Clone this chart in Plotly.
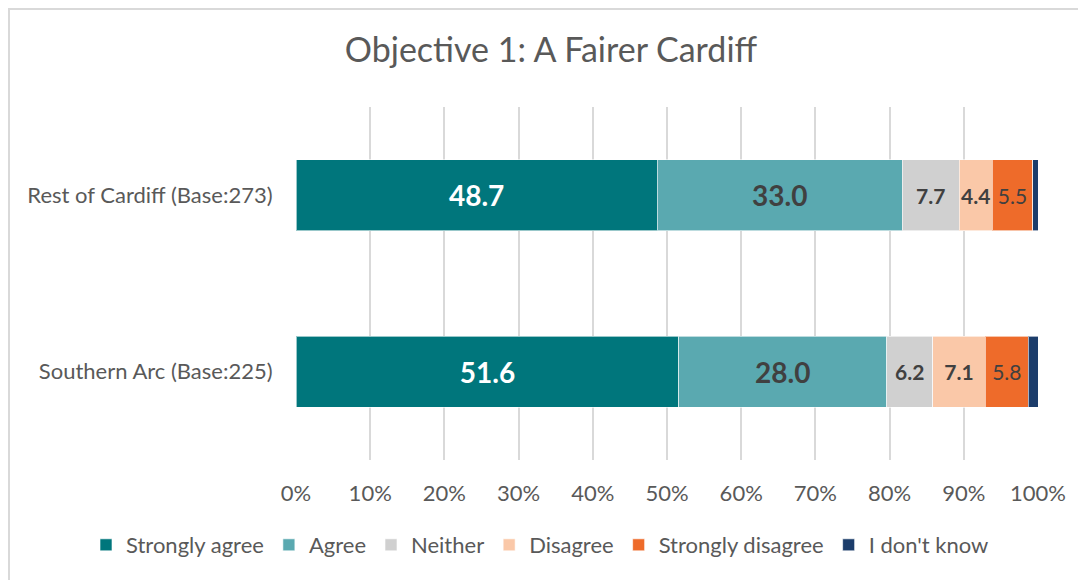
import plotly.graph_objects as go

categories = ["Rest of Cardiff (Base:273)", "Southern Arc (Base:225)"]
series_names = ["Strongly agree", "Agree", "Neither", "Disagree", "Strongly disagree", "I don't know"]
strongly_agree = [48.7, 51.6]
agree = [33.0, 28.0]
neither = [7.7, 6.2]
disagree = [4.4, 7.1]
strongly_disagree = [5.5, 5.8]
dont_know = [0.7, 1.3]
tick_vals = [0, 10, 20, 30, 40, 50, 60, 70, 80, 90, 100]
tick_text = ["0%", "10%", "20%", "30%", "40%", "50%", "60%", "70%", "80%", "90%", "100%"]

values = [strongly_agree, agree, neither, disagree, strongly_disagree, dont_know]
colors = ["#00767C", "#5AA9B0", "#D0D0D0", "#FAC8A8", "#EE6B2A", "#1C3D6B"]
text_colors = ["#FFFFFF", "#404040", "#404040", "#404040", "#404040", "#404040"]
text_sizes = [28, 28, 21, 21, 21, 21]
bold = [True, True, True, True, False, False]
show_text = [True, True, True, True, True, False]

FONT = "Lato"
# figure is placed at page offset (8, 8) by the body margin
FW, FH = 1078, 572
L, R, T, B = 288, 1030, 99, 452
W, H = R - L, B - T

fig = go.Figure()
for name, vals, col, tc, ts, bd, st in zip(series_names, values, colors, text_colors, text_sizes, bold, show_text):
    if st:
        txt = [(f"<b>{v:.1f}</b>" if bd else f"{v:.1f}") for v in vals]
    else:
        txt = ["" for v in vals]
    fig.add_trace(go.Bar(
        name=name, y=categories, x=vals, orientation="h",
        marker=dict(color=col, line=dict(color="rgba(255,255,255,0.6)", width=1)),
        text=txt, textposition="inside", insidetextanchor="middle", textangle=0,
        textfont=dict(color=tc, size=ts, family=FONT),
        constraintext="none", cliponaxis=False,
        hoverinfo="x+name",
    ))

def px_x(x):
    return (x - L) / W

def px_y(y):
    return (B - y) / H

fig.update_layout(
    barmode="stack",
    width=FW, height=FH,
    margin=dict(l=L, r=FW - R, t=T, b=FH - B, autoexpand=False),
    paper_bgcolor="white", plot_bgcolor="white",
    font=dict(family=FONT, color="#595959"),
    title=dict(text="Objective 1: A Fairer Cardiff", x=543 / FW, xanchor="center",
               y=1 - 42 / FH, yanchor="middle", font=dict(size=34, color="#595959", family=FONT)),
    bargap=0.6,
    showlegend=True,
    legend=dict(orientation="h", x=px_x(78), xanchor="left",
                y=(B - 537) / H, yanchor="middle", font=dict(size=22, color="#595959", family=FONT),
                itemwidth=30, traceorder="normal", tracegroupgap=0),
    xaxis=dict(range=[0, 100], tickvals=tick_vals, ticktext=tick_text, showgrid=True,
               gridcolor="#D9D9D9", gridwidth=2, zeroline=False, showline=False,
               ticks="outside", ticklen=14, tickcolor="rgba(0,0,0,0)",
               tickfont=dict(size=22, color="#595959", family=FONT), fixedrange=True),
    yaxis=dict(autorange="reversed", showgrid=False, zeroline=False, showline=False,
               ticks="outside", ticklen=18, tickcolor="rgba(0,0,0,0)",
               tickfont=dict(size=22, color="#595959", family=FONT), fixedrange=True),
    shapes=[
        dict(type="line", xref="paper", yref="paper", x0=px_x(1), x1=px_x(1), y0=px_y(0), y1=px_y(FH),
             line=dict(color="#D9D9D9", width=2)),
        dict(type="line", xref="paper", yref="paper", x0=px_x(0), x1=px_x(FW), y0=px_y(1), y1=px_y(1),
             line=dict(color="#D9D9D9", width=2)),
    ],
)

fig.write_html("out.html")
